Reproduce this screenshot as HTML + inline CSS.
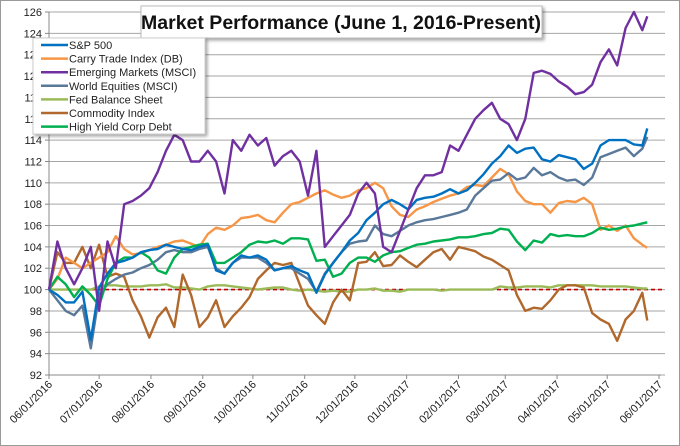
<!DOCTYPE html>
<html><head><meta charset="utf-8"><style>
html,body{margin:0;padding:0;background:#fff;}
svg{display:block;font-family:"Liberation Sans",sans-serif;}
</style></head><body>
<svg id="chart" width="680" height="446" viewBox="0 0 680 446">
<defs><filter id="sh" x="-5%" y="-5%" width="115%" height="130%"><feDropShadow dx="2" dy="2" stdDeviation="1.5" flood-color="#000" flood-opacity="0.35"/></filter></defs>
<rect x="0.5" y="0.5" width="679" height="445" fill="#fff" stroke="#9a9a9a"/>
<g id="grid"></g>
<g id="axes"></g>
<line id="baseline" stroke="#C00000" stroke-width="1.6" stroke-dasharray="4,3"/>
<g id="series"></g>
<g>
<rect x="141" y="6" width="401" height="32" fill="#fff" stroke="#bbb" filter="url(#sh)"/>
<text x="341" y="29" text-anchor="middle" font-size="19.5" font-weight="bold" fill="#111">Market Performance (June 1, 2016-Present)</text>
</g>
<g id="legend">
<rect x="33" y="38" width="172" height="96" fill="#fff" stroke="#ccc" filter="url(#sh)"/>
</g>
</svg>
<script>
const days=[0,5,10,15,20,25,30,35,40,45,50,55,60,65,70,75,80,85,90,95,100,105,110,115,120,125,130,135,140,145,150,155,160,165,170,175,180,185,190,195,200,205,210,215,220,225,230,235,240,245,250,255,260,265,270,275,280,285,290,295,300,305,310,315,320,325,330,335,340,345,350,355,358];
const seriesNames=["S&P 500","Carry Trade Index (DB)","Emerging Markets (MSCI)","World Equities (MSCI)","Fed Balance Sheet","Commodity Index","High Yield Corp Debt"];
const spx=[100,99.5,98.8,98.8,99.8,95.3,100.2,101.5,102.5,102.7,103,103.5,103.7,103.8,104.2,104,103.8,103.7,104,104.2,101.8,101.5,102.5,103.2,103,103.2,102.8,101.8,102,102.2,101.8,101.5,99.7,101.4,102.5,103.5,104.6,105.3,106.5,107.2,108,108.4,108,107.5,108.4,108.6,108.7,109,109.4,109,109.3,110,110.8,111.8,112.5,113.5,112.8,113.2,113.3,112.2,112,112.6,112.4,112.2,111.3,111.8,113.5,114,114,114,113.6,113.5,115.1];
const carry=[100,101,103,102.5,102,102.5,103,103.5,105,103.8,103.3,103.4,103.7,104,104.2,104.5,104.6,104.3,104,105.2,105.8,105.6,106,106.7,106.8,107,106.5,106.3,107.2,108,108.2,108.6,109,109.3,108.9,108.6,108.8,109.3,109.5,110,109.5,107.8,107,106.8,107.5,107.8,108.2,108.5,108.8,109,109.6,109.8,109.7,110.5,111.3,110.8,109.2,108.3,108,108,107.2,108.1,108.3,108.2,108.6,108,105.6,106,105.5,106,104.8,104.2,103.9];
const em=[100,104.5,102,100.5,102,104,98,104.5,102,108,108.3,108.8,109.5,111,113,114.5,114,112,112,113,112,109,114,113,114.5,113.5,114.2,111.6,112.5,113,112,108.8,113,104,105,106,107,109,110,109,104,103.5,105.5,107.5,109.5,110.7,110.7,111,113.5,113,114.5,116,116.8,117.5,116,115.5,114,116,120.3,120.5,120.2,119.5,119,118.3,118.5,119.2,121.3,122.5,121,124.5,126,124.3,125.6];
const world=[100,99,98,97.6,98.5,94.5,99.5,100.5,101,101.4,101.6,102,102.3,102.8,103.5,103.7,103.5,103.5,103.8,104,102,101.5,102.5,103,103,103,102.5,101.8,102,102,101.5,101,99.8,101.5,102.5,103.5,104.3,104.5,104.6,106,105.2,105,105.5,106,106.3,106.5,106.6,106.8,107,107.2,107.5,108.8,109.5,110.2,110.3,110.9,110.3,110.5,111.4,110.7,111,110.5,110.2,110.3,109.8,110.5,112.4,112.7,113,113.3,112.5,113.2,114.3];
const fed=[100,100,100,100,100,100,100.3,100.4,100.4,100.3,100.3,100.3,100.4,100.4,100.5,100.2,100.2,100.1,100,100.3,100.4,100.4,100.3,100.2,100.1,100,100.1,100.2,100.2,100,99.9,100,99.9,99.8,99.9,99.8,99.8,100,100,100.1,99.9,99.9,99.8,100,100,100,100,99.9,100,100,100,100,100,100,100.3,100.2,100.2,100.3,100.3,100.3,100.2,100.4,100.4,100.4,100.4,100.4,100.3,100.3,100.3,100.3,100.2,100.1,100.1];
const commodity=[100,103.5,102.5,102.5,104,102,104.2,101.2,101.5,101.2,99,97.5,95.5,97.4,98.3,96.5,101.4,99.5,96.5,97.4,99,96.5,97.5,98.3,99.3,101,101.8,102.5,102.3,102.5,100.5,98.5,97.6,96.8,98.8,100,99,102.5,102.6,103.5,102.2,102.3,103.2,102.6,102.1,102.8,103.5,103.8,102.8,104,103.8,103.6,103.1,102.8,102.3,101.8,99.5,98,98.3,98.2,99,100,100.4,100.4,100.2,97.8,97.2,96.8,95.2,97.2,98,99.7,97.1];
const hy=[100,101.2,100.5,99.3,100.3,99.5,98.5,101,102.5,103,103,103.5,103,101.8,101.5,103,103.8,104,104.2,104.3,102.5,102.5,103,103.5,104.2,104.5,104.4,104.6,104.3,104.8,104.8,104.7,102.7,102.8,101.2,101.5,102.5,103,103,102.6,103.2,103.5,103.6,103.9,104.2,104.3,104.5,104.6,104.7,104.9,104.9,105,105.2,105.3,105.7,105.6,104.5,103.7,104.6,104.4,105.2,105,105.1,105,105,105.3,105.8,105.6,105.7,105.9,106,106.2,106.3];
const yTicks=[92,94,96,98,100,102,104,106,108,110,112,114,116,118,120,122,124,126];
const xTickLabels=["06/01/2016","07/01/2016","08/01/2016","09/01/2016","10/01/2016","11/01/2016","12/01/2016","01/01/2017","02/01/2017","03/01/2017","04/01/2017","05/01/2017","06/01/2017"];
const xTickDays=[0,30,61,92,122,153,183,214,245,273,304,334,365];

const NS="http://www.w3.org/2000/svg";
const X0=49,X1=659,Y0=375,Y1=12,VMIN=92,VMAX=126;
function xs(d){return X0+(X1-X0)*d/365;}
function ys(v){return Y0-(Y0-Y1)*(v-VMIN)/(VMAX-VMIN);}
function mk(tag,attrs,parent){const e=document.createElementNS(NS,tag);for(const k in attrs)e.setAttribute(k,attrs[k]);parent.appendChild(e);return e;}
const grid=document.getElementById('grid'),axes=document.getElementById('axes'),sg=document.getElementById('series'),lg=document.getElementById('legend');
yTicks.forEach(v=>{
  const l=mk('line',{x1:X0,x2:665,y1:ys(v),y2:ys(v),stroke:'#a6a6a6','stroke-width':1},grid);
  
  
  const t=mk('text',{x:42,y:ys(v)+4,'text-anchor':'end','font-size':11,fill:'#222'},axes);
  t.textContent=v;
  
  
  mk('line',{x1:X0-4,x2:X0,y1:ys(v),y2:ys(v),stroke:'#888'},axes);
});
mk('line',{x1:X0,x2:X0,y1:Y1,y2:Y0,stroke:'#888'},axes);
mk('line',{x1:X0,x2:X1+2,y1:Y0,y2:Y0,stroke:'#888'},axes);
xTickDays.forEach((d,i)=>{
  const x=xs(d);
  mk('line',{x1:x,x2:x,y1:Y0,y2:Y0+4,stroke:'#888'},axes);
  const t=mk('text',{x:0,y:0,'text-anchor':'end','font-size':11,fill:'#222',transform:`translate(${x+4},${Y0+10}) rotate(-45)`},axes);
  t.textContent=xTickLabels[i];
  
  
});
const bl=document.getElementById('baseline');
bl.setAttribute('x1',X0);bl.setAttribute('x2',665);bl.setAttribute('y1',ys(100));bl.setAttribute('y2',ys(100));
const all=[spx,carry,em,world,fed,commodity,hy];
const colors=["#0070C0","#F79646","#7030A0","#5A7899","#9BBB59","#B0682C","#00B050"];
const order=[4,5,1,3,6,0,2];
const keys=["sp500","carry-trade","emerging-markets","world-equities","fed-balance-sheet","commodity-index","high-yield"];
order.forEach(i=>{
  const pts=all[i].map((v,j)=>xs(days[j]).toFixed(1)+','+ys(v).toFixed(1)).join(' ');
  const p=mk('polyline',{points:pts,fill:'none',stroke:colors[i],'stroke-width':2.4,'stroke-linejoin':'round'},sg);
  
  
});
seriesNames.forEach((n,i)=>{
  const y=45+i*13.6;
  const g=mk('g',{},lg);
  
  
  mk('line',{x1:41,x2:68,y1:y,y2:y,stroke:colors[i],'stroke-width':2.5},g);
  const t=mk('text',{x:69,y:y+4,'font-size':11,fill:'#222'},g);
  t.textContent=n;
});
</script>
</body></html>
